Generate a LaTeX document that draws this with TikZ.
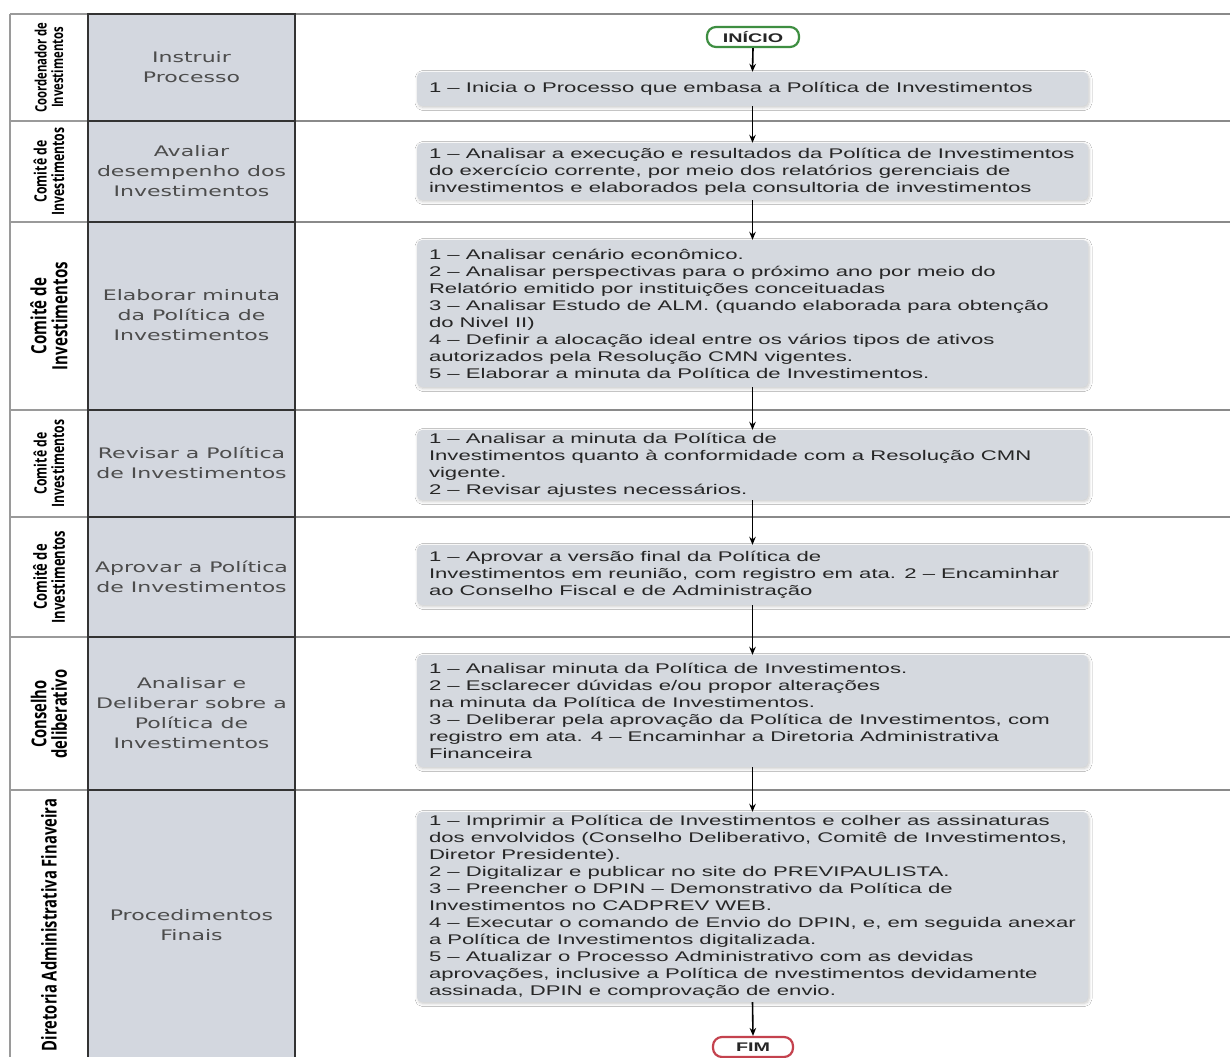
\documentclass[tikz,border=0pt]{standalone}
\usepackage{fontspec}
\setmainfont{Liberation Sans}
\newfontfamily\boxfont[FakeStretch=1.58]{Liberation Sans}
\newfontfamily\actfont[FakeStretch=1.52]{DejaVu Sans}
\newfontfamily\lanefont[FakeStretch=0.72]{Open Sans}
\usetikzlibrary{arrows.meta,shadows.blur}
\definecolor{colbg}{HTML}{D3D7DF}
\definecolor{boxbg}{HTML}{D5D9DF}
\definecolor{sepgray}{HTML}{8A8A8A}
\definecolor{lanegray}{HTML}{9A9A9A}
\definecolor{coldark}{HTML}{333333}
\definecolor{actgray}{HTML}{4C4C4C}
\definecolor{txtdark}{HTML}{262626}
\definecolor{startgreen}{HTML}{3E8E41}
\definecolor{endred}{HTML}{C4424E}
\begin{document}
\begin{tikzpicture}[x=1pt,y=-1pt,
 stepbox/.style={fill=boxbg, rounded corners=5pt, minimum width=671pt, inner sep=0pt,
   blur shadow={shadow xshift=1pt, shadow yshift=-1.5pt, shadow opacity=22, shadow blur steps=6, shadow blur radius=3pt}},
 boxtext/.style={anchor=west, align=left, inner sep=0pt, text=txtdark, font=\boxfont\fontsize{14}{17}\selectfont},
 acttext/.style={align=center, text=actgray, font=\actfont\fontsize{14.5}{20}\selectfont},
 lanetext/.style={rotate=90, align=center, inner sep=0pt},
 flow/.style={-{Stealth[length=8pt,width=6.5pt]}, line width=1.6pt},
 term/.style={draw, line width=2.2pt, fill=white, rounded corners=9pt, minimum height=20pt, inner xsep=8pt, inner ysep=0pt, font=\boxfont\bfseries\fontsize{12.5}{12.5}\selectfont, text=txtdark}
]
\useasboundingbox (0,0) rectangle (1230,1057);
\fill[white] (0,0) rectangle (1230,1057);
% activity column background
\fill[colbg] (88,14) rectangle (295,1057);
% horizontal lane separators
\foreach \yy in {14,121,222,410,517,637,790}{
  \draw[lanegray, line width=1.2pt] (10,\yy) -- (88,\yy);
  \draw[coldark, line width=2.6pt] (88,\yy) -- (295,\yy);
  \draw[sepgray, line width=2.4pt] (295,\yy) -- (1230,\yy);
}
% vertical borders
\draw[lanegray, line width=1.2pt] (10,14) -- (10,1057);
\draw[coldark, line width=2.6pt] (88,13) -- (88,1057);
\draw[coldark, line width=2.6pt] (295,13) -- (295,1057);

% lane labels
\node[lanetext, font=\lanefont\bfseries\fontsize{15.7}{16.5}\selectfont] (l1) at (49,67.5) {Coordenador de\\Investimentos};
\node[lanetext, font=\lanefont\bfseries\fontsize{17}{17.5}\selectfont] (l2) at (49,171.5) {Comitê de\\Investimentos};
\node[lanetext, font=\lanefont\bfseries\fontsize{21}{21}\selectfont] (l3) at (49,316) {Comitê de\\Investimentos};
\node[lanetext, font=\lanefont\bfseries\fontsize{17}{17.5}\selectfont] (l4) at (49,463.5) {Comitê de\\Investimentos};
\node[lanetext, font=\lanefont\bfseries\fontsize{18}{18}\selectfont] (l5) at (49,577) {Comitê de\\Investimentos};
\node[lanetext, font=\lanefont\bfseries\fontsize{20.5}{20.5}\selectfont] (l6) at (49,714) {Conselho\\deliberativo};
\node[lanetext, font=\lanefont\bfseries\fontsize{20.5}{20.5}\selectfont] (l7) at (49,925) {Diretoria Administrativa Finaveira};

% activity texts
\node[acttext] (a1) at (191.5,67.5) {Instruir\\Processo};
\node[acttext] (a2) at (191.5,171) {Avaliar\\desempenho dos\\Investimentos};
\node[acttext] (a3) at (191.5,315) {Elaborar minuta\\da Política de\\Investimentos};
\node[acttext] (a4) at (191.5,463) {Revisar a Política\\de Investimentos};
\node[acttext] (a5) at (191.5,577) {Aprovar a Política\\de Investimentos};
\node[acttext] (a6) at (191.5,713) {Analisar e\\Deliberar sobre a\\Política de\\Investimentos};
\node[acttext] (a7) at (191.5,925) {Procedimentos\\Finais};

% terminators
\node[term, draw=startgreen, minimum width=92pt] (start) at (753,37) {INÍCIO};
\node[term, draw=endred, minimum width=80pt] (end) at (753,1047) {FIM};

% process boxes
\node[stepbox, minimum height=34pt] (b1) at (752.5,89) {};
\node[stepbox, minimum height=57pt] (b2) at (752.5,171.5) {};
\node[stepbox, minimum height=147pt] (b3) at (752.5,313.5) {};
\node[stepbox, minimum height=70pt] (b4) at (752.5,465) {};
\node[stepbox, minimum height=60pt] (b5) at (752.5,575) {};
\node[stepbox, minimum height=112pt] (b6) at (752.5,711) {};
\node[stepbox, minimum height=190pt] (b7) at (752.5,907) {};

\node[boxtext] (t1) at ([xshift=12pt]b1.west) {1 – Inicia o Processo que embasa a Política de Investimentos};
\node[boxtext] (t2) at ([xshift=12pt]b2.west) {1 – Analisar a execução e resultados da Política de Investimentos\\do exercício corrente, por meio dos relatórios gerenciais de\\investimentos e elaborados pela consultoria de investimentos};
\node[boxtext] (t3) at ([xshift=12pt]b3.west) {1 – Analisar cenário econômico.\\2 – Analisar perspectivas para o próximo ano por meio do\\Relatório emitido por instituições conceituadas\\3 – Analisar Estudo de ALM. (quando elaborada para obtenção\\do Nivel II)\\4 – Definir a alocação ideal entre os vários tipos de ativos\\autorizados pela Resolução CMN vigentes.\\5 – Elaborar a minuta da Política de Investimentos.};
\node[boxtext] (t4) at ([xshift=12pt]b4.west) {1 – Analisar a minuta da Política de\\Investimentos quanto à conformidade com a Resolução CMN\\vigente.\\2 – Revisar ajustes necessários.};
\node[boxtext] (t5) at ([xshift=12pt]b5.west) {1 – Aprovar a versão final da Política de\\Investimentos em reunião, com registro em ata. 2 – Encaminhar\\ao Conselho Fiscal e de Administração};
\node[boxtext] (t6) at ([xshift=12pt]b6.west) {1 – Analisar minuta da Política de Investimentos.\\2 – Esclarecer dúvidas e/ou propor alterações\\na minuta da Política de Investimentos.\\3 – Deliberar pela aprovação da Política de Investimentos, com\\registro em ata. 4 – Encaminhar a Diretoria Administrativa\\Financeira};
\node[boxtext] (t7) at ([xshift=12pt]b7.west) {1 – Imprimir a Política de Investimentos e colher as assinaturas\\dos envolvidos (Conselho Deliberativo, Comitê de Investimentos,\\Diretor Presidente).\\2 – Digitalizar e publicar no site do PREVIPAULISTA.\\3 – Preencher o DPIN – Demonstrativo da Política de\\Investimentos no CADPREV WEB.\\4 – Executar o comando de Envio do DPIN, e, em seguida anexar\\a Política de Investimentos digitalizada.\\5 – Atualizar o Processo Administrativo com as devidas\\aprovações, inclusive a Política de nvestimentos devidamente\\assinada, DPIN e comprovação de envio.};

% connectors
\draw[flow] (start.south) -- (b1.north);
\draw[flow] (b1.south) -- (b2.north);
\draw[flow] (b2.south) -- (b3.north);
\draw[flow] (b3.south) -- (b4.north);
\draw[flow] (b4.south) -- (b5.north);
\draw[flow] (b5.south) -- (b6.north);
\draw[flow] (b6.south) -- (b7.north);
\draw[flow] (b7.south) -- (end.north);
\end{tikzpicture}
\end{document}
